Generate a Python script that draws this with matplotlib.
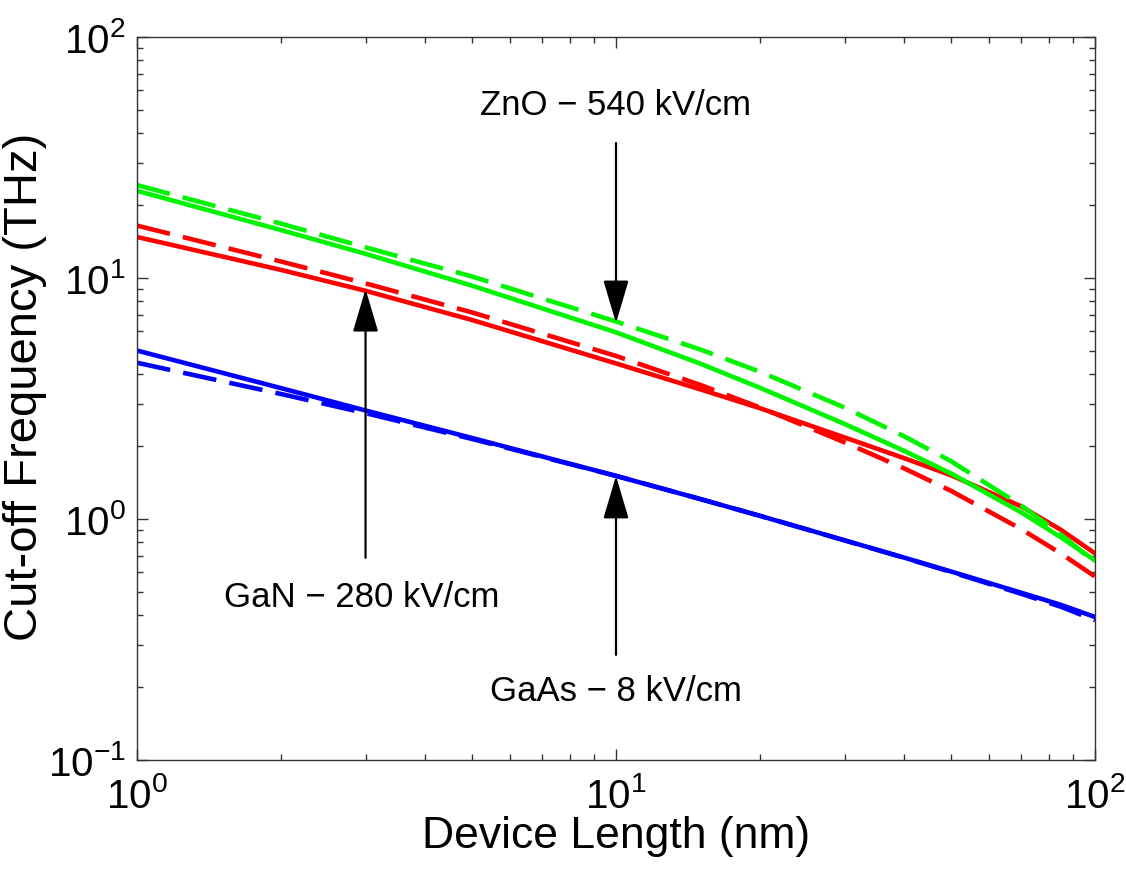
import matplotlib
matplotlib.use("Agg")
import matplotlib.pyplot as plt

plt.rcParams['font.family'] = ['Liberation Sans', 'DejaVu Sans']
plt.rcParams['mathtext.fontset'] = 'custom'
plt.rcParams['mathtext.rm'] = 'Liberation Sans'
plt.rcParams['mathtext.it'] = 'Liberation Sans'

# Data
length_nm = [1, 2, 3, 5, 10, 15, 20, 30, 40, 50, 70, 85, 100]
zno_solid = [23.0, 15.8, 12.6, 9.3, 5.95, 4.41, 3.50, 2.48, 1.915, 1.546, 1.068, 0.838, 0.673]
zno_dash = [24.3, 16.8, 13.4, 10.15, 6.6, 5.05, 4.08, 2.9, 2.2, 1.74, 1.14, 0.86, 0.66]
gan_solid = [14.8, 10.8, 8.85, 6.7, 4.42, 3.45, 2.88, 2.18, 1.787, 1.52, 1.13, 0.90, 0.72]
gan_dash = [16.5, 11.7, 9.5, 7.2, 4.75, 3.6, 2.90, 2.08, 1.62, 1.31, 0.91, 0.718, 0.577]
gaas_solid = [5.0, 3.49, 2.82, 2.17, 1.51, 1.21, 1.03, 0.816, 0.691, 0.606, 0.495, 0.44, 0.392]
gaas_dash = [4.45, 3.30, 2.75, 2.15, 1.51, 1.21, 1.03, 0.815, 0.69, 0.603, 0.49, 0.432, 0.38]

labels = ["ZnO \u2212 540 kV/cm", "GaN \u2212 280 kV/cm", "GaAs \u2212 8 kV/cm"]
label_pos = [(10, 51.8), (2.94, 0.474), (10, 0.193)]
arrow_tail = [(10, 36.3), (3, 0.69), (10, 0.273)]
arrow_tip = [(10, 6.5), (3, 9.0), (10, 1.51)]

fig = plt.figure(figsize=(11.26, 8.69), dpi=100)
ax = fig.add_axes([137/1126, 1-760/869, (1095-137)/1126, (760-37)/869])

lw = 3.3
dash = [7.4, 2.9]
green = '#00f400'
ax.plot(length_nm, gaas_solid, color='#0000ff', lw=lw)
ax.plot(length_nm, gaas_dash, color='#0000ff', lw=lw, dashes=dash)
ax.plot(length_nm, gan_solid, color='#ff0000', lw=lw)
ax.plot(length_nm, gan_dash, color='#ff0000', lw=lw, dashes=dash)
ax.plot(length_nm, zno_solid, color=green, lw=lw)
ax.plot(length_nm, zno_dash, color=green, lw=lw, dashes=dash)

ax.set_xscale('log')
ax.set_yscale('log')
ax.set_xlim(1, 100)
ax.set_ylim(0.1, 100)

for lab, pos, tail, tip in zip(labels, label_pos, arrow_tail, arrow_tip):
    ax.text(pos[0], pos[1], lab, ha='center', va='center', fontsize=25)
    ax.annotate("", xy=tip, xytext=tail,
                arrowprops=dict(arrowstyle='-|>,head_length=2.7,head_width=0.8',
                                mutation_scale=10, color='black', lw=1.6,
                                shrinkA=0, shrinkB=0))

ax.set_xlabel("Device Length (nm)", fontsize=32, labelpad=0)
ax.set_ylabel("Cut-off Frequency (THz)", fontsize=34)
ax.yaxis.set_label_coords(-0.094, 0.516)

ax.tick_params(which='both', direction='in', top=True, right=True, colors='#333333',
               labelcolor='black', width=1)
ax.tick_params(which='major', length=8, labelsize=29)
ax.tick_params(which='minor', length=4)
ax.tick_params(axis='x', which='major', pad=12)
ax.tick_params(axis='y', which='major', pad=8)
for s in ax.spines.values():
    s.set_linewidth(1.0)
    s.set_color('#333333')

fig.savefig("out.png", dpi=100)
